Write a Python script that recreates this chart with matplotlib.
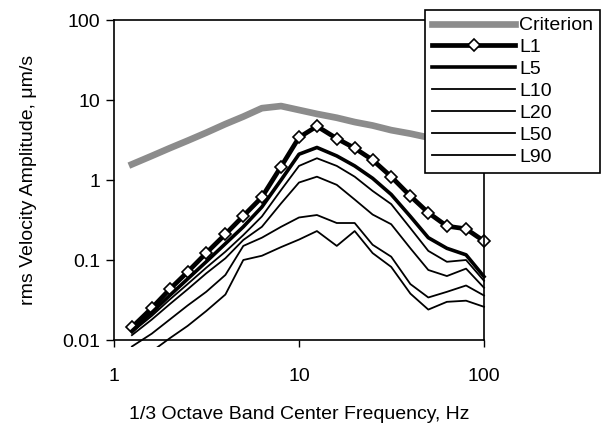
import matplotlib
matplotlib.use("Agg")
import matplotlib.pyplot as plt
import matplotlib.patches as mpatches
from matplotlib.ticker import FixedLocator, FixedFormatter, NullLocator

plt.rcParams['font.family'] = ['Liberation Sans', 'DejaVu Sans']
plt.rcParams['font.size'] = 14

# 1/3 octave band centre frequencies, Hz
freq = [1.25, 1.6, 2, 2.5, 3.15, 4, 5, 6.3, 8, 10, 12.5, 16, 20, 25, 31.5, 40, 50, 63, 80, 100]

criterion = [1.57, 2.0, 2.5, 3.1, 3.9, 5.0, 6.2, 7.9, 8.4, 7.5, 6.7, 6.0, 5.3, 4.8, 4.2, 3.8, 3.4, 3.0, 2.7, 2.4]
l1 = [0.0144, 0.025, 0.043, 0.071, 0.122, 0.21, 0.355, 0.61, 1.47, 3.4, 4.7, 3.3, 2.5, 1.78, 1.1, 0.63, 0.39, 0.265, 0.245, 0.172]
l5 = [0.013, 0.022, 0.036, 0.058, 0.095, 0.16, 0.26, 0.46, 1.0, 2.1, 2.55, 2.0, 1.5, 1.05, 0.66, 0.35, 0.19, 0.14, 0.116, 0.062]
l10 = [0.0125, 0.02, 0.032, 0.05, 0.08, 0.127, 0.205, 0.35, 0.75, 1.5, 1.87, 1.5, 1.1, 0.73, 0.5, 0.25, 0.13, 0.095, 0.1, 0.055]
l20 = [0.0115, 0.018, 0.028, 0.043, 0.068, 0.105, 0.178, 0.26, 0.51, 0.93, 1.1, 0.87, 0.57, 0.37, 0.28, 0.14, 0.075, 0.063, 0.078, 0.045]
l50 = [0.0083, 0.012, 0.018, 0.027, 0.04, 0.065, 0.15, 0.19, 0.26, 0.34, 0.365, 0.29, 0.29, 0.155, 0.11, 0.05, 0.034, 0.04, 0.048, 0.036]
l90 = [0.005, 0.0072, 0.0105, 0.015, 0.023, 0.037, 0.1, 0.113, 0.145, 0.18, 0.23, 0.15, 0.23, 0.122, 0.082, 0.038, 0.024, 0.03, 0.031, 0.026]

fig = plt.figure(figsize=(6.05, 4.23), dpi=100)
ax = fig.add_axes([114/605, 1-340/423, 370/605, 320/423])

lines = []
lines += ax.plot(freq, criterion, color='#8c8c8c', lw=4.8, label='Criterion')
lines += ax.plot(freq, l1, color='black', lw=3.4, marker='D', ms=6, mfc='white', mec='black', mew=1.2, label='L1')
lines += ax.plot(freq, l5, color='black', lw=2.6, label='L5')
lines += ax.plot(freq, l10, color='black', lw=1.3, label='L10')
lines += ax.plot(freq, l20, color='black', lw=1.3, label='L20')
lines += ax.plot(freq, l50, color='black', lw=1.3, label='L50')
lines += ax.plot(freq, l90, color='black', lw=1.3, label='L90')

# lines run slightly past the bottom of the plot area in the original
clip = mpatches.Rectangle((-0.01, -0.022), 1.04, 1.03, transform=ax.transAxes)
for ln in lines:
    ln.set_clip_path(clip)

ax.set_xscale('log')
ax.set_yscale('log')
ax.set_xlim(1, 100)
ax.set_ylim(0.01, 100)

ax.xaxis.set_major_locator(FixedLocator([1, 10, 100]))
ax.xaxis.set_major_formatter(FixedFormatter(['1', '10', '100']))
ax.yaxis.set_major_locator(FixedLocator([0.01, 0.1, 1, 10, 100]))
ax.yaxis.set_major_formatter(FixedFormatter(['0.01', '0.1', '1', '10', '100']))
ax.xaxis.set_minor_locator(NullLocator())
ax.yaxis.set_minor_locator(NullLocator())

ax.tick_params(axis='y', direction='out', length=5.8, width=1, pad=4)
ax.tick_params(axis='x', direction='out', length=5, width=1, pad=15)
for sp in ax.spines.values():
    sp.set_linewidth(1.2)

ax.set_xlabel('1/3 Octave Band Center Frequency, Hz', labelpad=15)
ax.set_ylabel('rms Velocity Amplitude, μm/s', labelpad=18)

leg = ax.legend(loc='upper left', bbox_to_anchor=(425/605, 1-10/423), bbox_transform=fig.transFigure,
                frameon=True, fancybox=False, framealpha=1, edgecolor='black',
                handlelength=4.3, handletextpad=0.2, labelspacing=0.22, borderpad=0.35,
                borderaxespad=0)
leg.get_frame().set_linewidth(1.2)

fig.savefig('out.png', dpi=100)
